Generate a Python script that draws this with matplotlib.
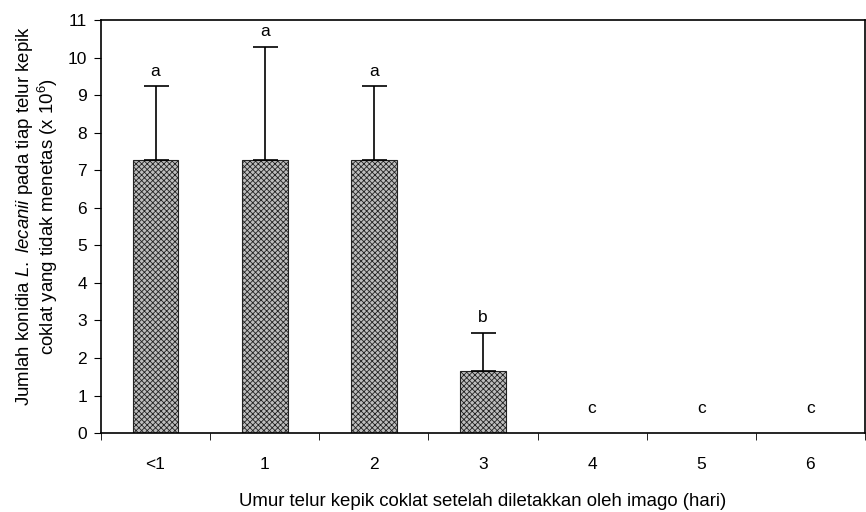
import matplotlib
matplotlib.use("Agg")
import matplotlib.pyplot as plt
import numpy as np

plt.rcParams['font.family'] = 'Liberation Sans'
plt.rcParams['mathtext.fontset'] = 'custom'
plt.rcParams['mathtext.rm'] = 'Liberation Sans'
plt.rcParams['mathtext.it'] = 'Liberation Sans:italic'
plt.rcParams['hatch.linewidth'] = 0.6
plt.rcParams['hatch.color'] = '#333333'

categories = ['<1', '1', '2', '3', '4', '5', '6']
means = [7.27, 7.27, 7.27, 1.65, 0.0, 0.0, 0.0]
sd = [1.97, 3.02, 1.97, 1.02, 0.0, 0.0, 0.0]
letters = ['a', 'a', 'a', 'b', 'c', 'c', 'c']

fig = plt.figure(figsize=(8.66, 5.12), dpi=100)
ax = fig.add_axes([0.1166, 0.154, 0.8822, 0.807])

x = np.arange(len(categories))
ax.bar(x, means, width=0.42, color='#bdbdbd', edgecolor='#222222',
       linewidth=0.8, hatch='xxxxxx')
has_err = np.array(sd) > 0
ax.errorbar(x[has_err], np.array(means)[has_err],
            yerr=[np.zeros(has_err.sum()), np.array(sd)[has_err]],
            fmt='none', ecolor='black', elinewidth=1.2, capsize=9, capthick=1.2)

# significance letters above each bar (or just above the axis for empty bars)
for i, (m, s, lab) in enumerate(zip(means, sd, letters)):
    top = m + s
    ypos = top + 0.4 if s > 0 else 0.65
    ax.text(i, ypos, lab, ha='center', va='center', fontsize=12.5)

ax.set_xlim(-0.5, len(categories) - 0.5)
ax.set_ylim(0, 11)
ax.set_yticks(range(0, 12))
ax.set_xticks(x)
ax.set_xticklabels(categories)
ax.set_xticks(np.arange(-0.5, len(categories)), minor=True)
ax.tick_params(axis='x', which='major', length=0, pad=17, labelsize=12.5)
ax.tick_params(axis='x', which='minor', length=5, direction='out')
ax.tick_params(axis='y', length=5, direction='out', labelsize=12.5, pad=5)
for sp in ax.spines.values():
    sp.set_linewidth(1.2)

ax.set_xlabel('Umur telur kepik coklat setelah diletakkan oleh imago (hari)',
              fontsize=13.4, labelpad=15)
ax.set_ylabel('Jumlah konidia $\\mathit{L.\\ lecanii}$ pada tiap telur kepik\n'
              'coklat yang tidak menetas (x 10$^6$)', fontsize=13.4,
              linespacing=1.05)
ax.yaxis.set_label_coords(-0.054, 0.525)

fig.savefig('out.png', dpi=100)
